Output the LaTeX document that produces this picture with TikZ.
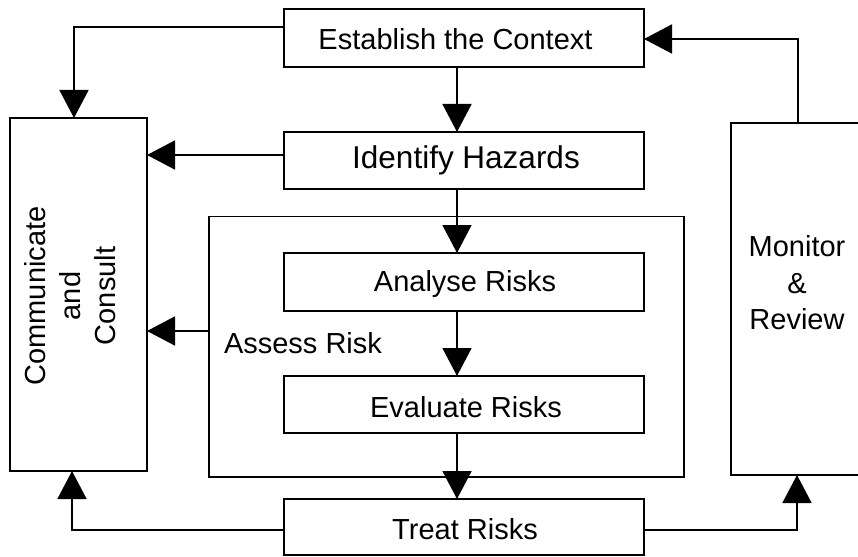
\documentclass[tikz,border=0pt]{standalone}
\usepackage{fontspec}
\setmainfont{Liberation Sans}
\usetikzlibrary{arrows.meta}
\begin{document}
\begin{tikzpicture}[x=1pt,y=-1pt,line width=1.6pt,
  box/.style={draw,inner sep=0pt,outer sep=0pt},
  txt/.style={inner sep=0pt,outer sep=0pt,font=\fontsize{29}{35}\selectfont},
  arr/.style={-{Triangle[length=28pt,width=29pt]},line width=1.6pt}]
\useasboundingbox (0,0) rectangle (858,556);
\clip (0,0) rectangle (858,556);
% boxes
\node[box,minimum width=360,minimum height=58] (est) at (464,38) {};
\node[box,minimum width=360,minimum height=57] (idf) at (464,160.5) {};
\node[box,minimum width=475,minimum height=260.5] (asr) at (446.5,346.75) {};
\node[box,minimum width=360,minimum height=58] (ana) at (464,282) {};
\node[box,minimum width=360,minimum height=57] (eva) at (464,404.5) {};
\node[box,minimum width=360,minimum height=56] (trt) at (464,527) {};
\node[box,minimum width=137,minimum height=353] (com) at (78.5,294.5) {};
\node[box,minimum width=139,minimum height=352] (mon) at (800.5,299) {};
% texts
\node[txt,anchor=base] (est-t) at (455.5,50) {Establish the Context};
\node[txt,anchor=base,font=\fontsize{31.5}{38}\selectfont] (idf-t) at (466,168) {Identify Hazards};
\node[txt,anchor=base] (ana-t) at (465,291.7) {Analyse Risks};
\node[txt,anchor=base] (eva-t) at (466,417.7) {Evaluate Risks};
\node[txt,anchor=base] (trt-t) at (465,539) {Treat Risks};
\node[txt,anchor=base west] (asr-t) at (224,353) {Assess Risk};
\node[txt,rotate=90,align=center] (com-t) at (70.5,296) {Communicate\\and\\Consult};
\node[txt,align=center,font=\fontsize{29}{36.5}\selectfont] (mon-t) at (797,283) {Monitor\\\&\\Review};
% connector helpers
\coordinate (ax) at (457,0);
\coordinate (c1) at (74,27);
\coordinate (c3) at (0,155);
\coordinate (c7) at (0,331);
\coordinate (c8) at (72,530);
\coordinate (c9) at (797,530);
\coordinate (c10) at (798,39);
% connectors
\draw[arr] (est.south -| ax) -- (idf.north -| ax);
\draw[arr] (idf.south -| ax) -- (ana.north -| ax);
\draw[arr] (ana.south -| ax) -- (eva.north -| ax);
\draw[arr] (eva.south -| ax) -- (trt.north -| ax);
\draw[arr] (est.west |- c1) -- (c1) -- (com.north -| c1);
\draw[arr] (idf.west |- c3) -- (com.east |- c3);
\draw[arr] (asr.west |- c7) -- (com.east |- c7);
\draw[arr] (trt.west |- c8) -- (c8) -- (com.south -| c8);
\draw[arr] (trt.east |- c9) -- (c9) -- (mon.south -| c9);
\draw[arr] (mon.north -| c10) -- (c10) -- (est.east |- c10);
\end{tikzpicture}
\end{document}
